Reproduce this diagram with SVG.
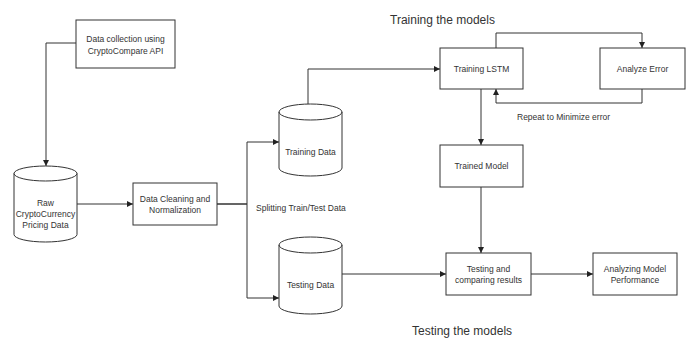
<svg xmlns="http://www.w3.org/2000/svg" width="690" height="340" viewBox="0 0 690 340">
<style>
.box{fill:#fff;stroke:#333;stroke-width:1}
.cyl{fill:#fff;stroke:#333;stroke-width:1}
.t{font-family:"Liberation Sans",Arial,sans-serif;font-size:8.5px;fill:#333;text-anchor:middle}
.lbl{font-family:"Liberation Sans",Arial,sans-serif;font-size:8.5px;fill:#333}
.title{font-family:"Liberation Sans",Arial,sans-serif;font-size:12px;fill:#333}
.c{fill:none;stroke:#333;stroke-width:1}
.ca{fill:none;stroke:#333;stroke-width:1;marker-end:url(#arr)}
</style>
<defs>
<marker id="arr" markerUnits="userSpaceOnUse" markerWidth="7" markerHeight="7" refX="6" refY="3" orient="auto">
<path d="M0,0 L6,3 L0,6 z" fill="#222"/>
</marker>
</defs>
<rect width="690" height="340" fill="#fff"/>
<text class="title" x="390" y="24">Training the models</text>
<text class="title" x="412" y="335">Testing the models</text>
<g id="connectors">
<path class="ca" d="M76,43 H46 V166"/>
<path class="ca" d="M77,204 H133"/>
<path class="ca" d="M217,204 H247 V142 H279"/>
<path class="ca" d="M217,204 H247 V298 H279"/>
<path class="ca" d="M308,104 V69 H440"/>
<path class="ca" d="M496,48 V33 H642 V48"/>
<path class="ca" d="M642,89 V103 H496 V89"/>
<path class="ca" d="M481,89 V145"/>
<path class="ca" d="M481,187 V253"/>
<path class="ca" d="M342,274 H446"/>
<path class="ca" d="M531,274 H593"/>
<text class="lbl" x="256" y="211">Splitting Train/Test Data</text>
<text class="lbl" x="517" y="120">Repeat to Minimize error</text>
</g>
<g id="data-collection">
<rect class="box" x="76" y="20" width="99" height="48"/>
<text class="t" x="125.5" y="42">Data collection using</text>
<text class="t" x="125.5" y="54">CryptoCompare API</text>
</g>
<g id="raw-data">
<path class="cyl" d="M14,173.5 A31.5,7.5 0 0 1 77,173.5 V234.5 A31.5,7.5 0 0 1 14,234.5 Z"/>
<path class="c" d="M14,173.5 A31.5,7.5 0 0 0 77,173.5"/>
<text class="t" x="45.5" y="206">Raw</text>
<text class="t" x="45.5" y="217">CryptoCurrency</text>
<text class="t" x="45.5" y="227.5">Pricing Data</text>
</g>
<g id="data-cleaning">
<rect class="box" x="133" y="183" width="84" height="42"/>
<text class="t" x="175" y="202">Data Cleaning and</text>
<text class="t" x="175" y="213">Normalization</text>
</g>
<g id="training-data">
<path class="cyl" d="M279,112 A31.5,8 0 0 1 342,112 V168 A31.5,8 0 0 1 279,168 Z"/>
<path class="c" d="M279,112 A31.5,8 0 0 0 342,112"/>
<text class="t" x="310.5" y="155">Training Data</text>
</g>
<g id="testing-data">
<path class="cyl" d="M279,245 A31.5,8 0 0 1 342,245 V306 A31.5,8 0 0 1 279,306 Z"/>
<path class="c" d="M279,245 A31.5,8 0 0 0 342,245"/>
<text class="t" x="310.5" y="288">Testing Data</text>
</g>
<g id="training-lstm">
<rect class="box" x="440" y="48" width="83" height="41"/>
<text class="t" x="481.5" y="71.5">Training LSTM</text>
</g>
<g id="analyze-error">
<rect class="box" x="600" y="48" width="85" height="41"/>
<text class="t" x="642.5" y="71.5">Analyze Error</text>
</g>
<g id="trained-model">
<rect class="box" x="440" y="145" width="83" height="42"/>
<text class="t" x="481.5" y="169">Trained Model</text>
</g>
<g id="testing-comparing">
<rect class="box" x="446" y="253" width="85" height="42"/>
<text class="t" x="488.5" y="272">Testing and</text>
<text class="t" x="488.5" y="283">comparing results</text>
</g>
<g id="analyzing-performance">
<rect class="box" x="593" y="253" width="84" height="42"/>
<text class="t" x="635" y="272">Analyzing Model</text>
<text class="t" x="635" y="283">Performance</text>
</g>
</svg>
